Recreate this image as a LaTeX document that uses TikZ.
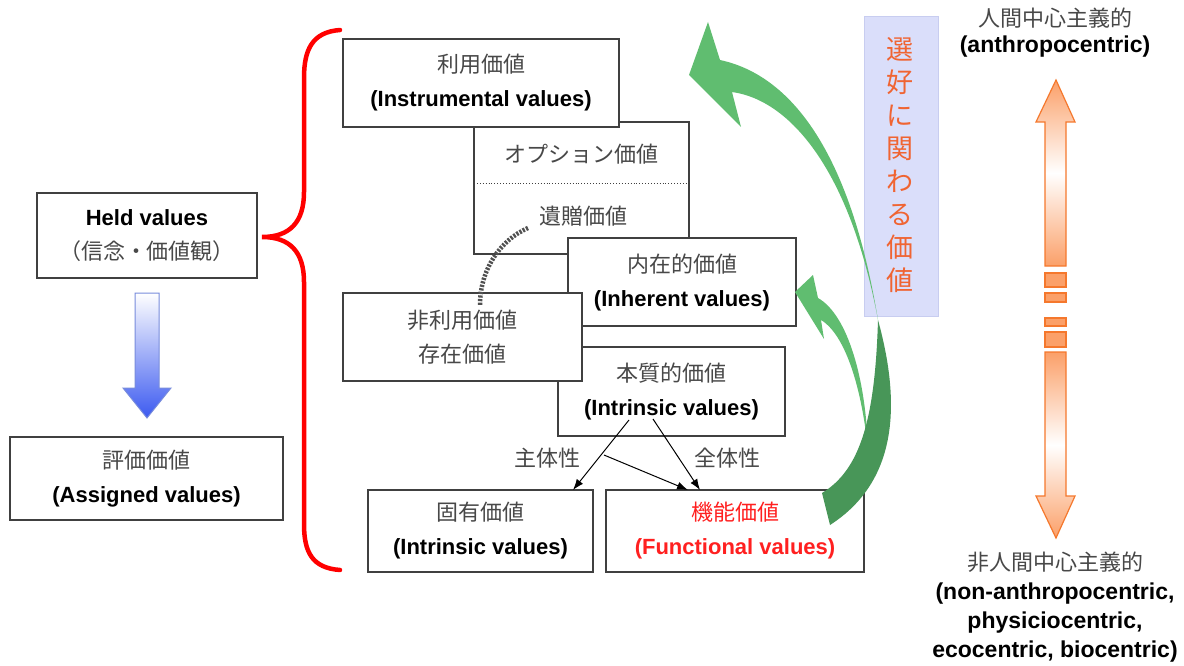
\documentclass[tikz,border=0pt]{standalone}
\usepackage{fontspec}
\setmainfont{Liberation Sans}
\newfontfamily\jp{Noto Sans CJK JP}
\usetikzlibrary{arrows.meta,calc}
\definecolor{boxline}{RGB}{64,64,64}
\definecolor{jgray}{RGB}{72,72,72}
\definecolor{dotgray}{RGB}{80,80,80}
\definecolor{fred}{RGB}{255,32,32}
\definecolor{glight}{RGB}{96,189,112}
\definecolor{gdark}{RGB}{72,150,88}
\definecolor{pfill}{RGB}{218,222,250}
\definecolor{pline}{RGB}{200,205,240}
\definecolor{vorange}{RGB}{240,100,50}
\definecolor{ofill}{RGB}{251,160,105}
\definecolor{oline}{RGB}{245,120,45}
\definecolor{bblue}{RGB}{60,90,240}
\definecolor{bline}{RGB}{120,140,220}
\definecolor{bracered}{RGB}{255,0,0}
\newcommand\jtext[1]{{\jp\color{jgray}#1}}
\newcommand\btext[1]{{\bfseries #1}}
\begin{document}
\begin{tikzpicture}[x=1pt,y=-1pt,
  box/.style={draw=boxline,line width=1.2pt,fill=white,inner sep=0pt,align=center,font=\fontsize{22}{34}\selectfont},
  arr/.style={line width=1pt,-{Latex[length=11pt,width=8pt]}},
  lab/.style={inner sep=0pt,font=\jp\fontsize{22}{26}\selectfont,text=jgray},
  eng/.style={inner sep=0pt,align=center,font=\bfseries\fontsize{23}{29}\selectfont},
  oarrow/.style={draw=oline,line width=1.2pt,top color=ofill,bottom color=ofill,middle color=white}]
\useasboundingbox (0,0) rectangle (1184,666);
\fill[white] (0,0) rectangle (1184,666);

% left boxes
\node[box,minimum width=220pt,minimum height=85pt] (held) at (147,235.5) {\btext{Held values}\\\jtext{（信念・価値観）}};
\node[box,minimum width=273pt,minimum height=83pt] (assigned) at (146.5,478.5) {\jtext{評価価値}\\\btext{(Assigned values)}};
\path[draw=bline,line width=1pt,top color=white,bottom color=bblue]
  (135,293) -- (159,293) -- (159,388) -- (171,388) -- (147,418) -- (123,388) -- (135,388) -- cycle;

% red brace
\draw[bracered,line width=4.5pt,line cap=round]
  (340,30) .. controls (312,32) and (304,50) .. (304,78) -- (304,192)
  .. controls (304,222) and (290,237) .. (262,237)
  .. controls (290,237) and (304,252) .. (304,282) -- (304,524)
  .. controls (304,552) and (312,568) .. (340,570);

% value boxes
\node[box,minimum width=215pt,minimum height=132pt] (opt) at (581.5,188) {};
\node[lab] (optA) at (581.5,154) {オプション価値};
\draw[dotted,line width=0.9pt,boxline] (474,183) -- (689,183);
\node[lab] (optB) at (583,216) {遺贈価値};
\node[box,minimum width=276pt,minimum height=88pt] (instr) at (481,83) {\jtext{利用価値}\\\btext{(Instrumental values)}};
\node[box,minimum width=228pt,minimum height=88pt] (inher) at (682,282) {\jtext{内在的価値}\\\btext{(Inherent values)}};
\node[box,minimum width=227pt,minimum height=89pt] (intr) at (671.5,391.5) {\jtext{本質的価値}\\\btext{(Intrinsic values)}};
\node[box,minimum width=239pt,minimum height=88pt] (nonuse) at (462.5,337) {\jtext{非利用価値}\\\jtext{存在価値}};
\node[box,minimum width=225pt,minimum height=82pt] (koyu) at (480.5,531) {\jtext{固有価値}\\\btext{(Intrinsic values)}};
\node[box,minimum width=258pt,minimum height=82pt] (func) at (735,531) {{\jp\color{fred}機能価値}\\{\color{fred}\bfseries (Functional values)}};

% dotted link
\coordinate (dA) at (528,228);
\coordinate (dB) at (480,305);
\draw[dotgray,line width=4.5pt,dash pattern=on 2.2pt off 1.4pt] (dA) .. controls (500,240) and (480,270) .. (dB);

% arrows from intrinsic
\coordinate (a1s) at (629,420); \coordinate (a1e) at (573,490);
\coordinate (a2s) at (653,419); \coordinate (a2e) at (700,490);
\coordinate (a3s) at (604,455); \coordinate (a3e) at (688,490);
\draw[arr] (a1s) -- (a1e);
\draw[arr] (a2s) -- (a2e);
\draw[arr] (a3s) -- (a3e);
\node[lab] (l1) at (547,458) {主体性};
\node[lab] (l2) at (727,458) {全体性};

% preference box
\node[draw=pline,fill=pfill,line width=1pt,minimum width=74pt,minimum height=299pt,inner sep=0pt] (pref) at (901,166.5) {};
\node[inner sep=0pt,align=center,text=vorange,font=\jp\fontsize{27}{33}\selectfont] (ptext) at (900,165) {選\\好\\に\\関\\わ\\る\\価\\値};

% green arrows
\fill[glight] (813,275) -- (818,298) .. controls (848,315) and (866,380) .. (868,450)
  .. controls (862,390) and (846,335) .. (821,320) -- (824,339) -- (795,292) -- cycle;
\fill[glight] (708,22) -- (720,60) .. controls (790,75) and (850,150) .. (878,320)
  .. controls (850,170) and (790,100) .. (732,92) -- (741,127) -- (689,75) -- cycle;
\fill[gdark] (878,320) .. controls (900,400) and (900,480) .. (830,525) -- (822,493)
  .. controls (860,470) and (875,420) .. (878,320) -- cycle;

% orange double arrow
\path[oarrow]
  (1056,80) -- (1075,122) -- (1066,122) -- (1066,266) -- (1045,266) -- (1045,122) -- (1036,122) -- cycle;
\path[oarrow]
  (1045,352) -- (1066,352) -- (1066,496) -- (1075,496) -- (1056,538) -- (1036,496) -- (1045,496) -- cycle;
\path[draw=oline,line width=1.2pt,fill=ofill] (1045,273) rectangle (1066,287);
\path[draw=oline,line width=1.2pt,fill=ofill] (1045,293) rectangle (1066,302);
\path[draw=oline,line width=1.2pt,fill=ofill] (1045,318) rectangle (1066,326);
\path[draw=oline,line width=1.2pt,fill=ofill] (1045,332) rectangle (1066,347);

% right labels
\node[lab] (hc) at (1055,18) {人間中心主義的};
\node[eng] (hcE) at (1055,47) {(anthropocentric)};
\node[lab] (nhc) at (1055,562) {非人間中心主義的};
\node[eng] (nhcE) at (1055,623) {(non-anthropocentric,\\physiciocentric,\\ecocentric, biocentric)};
\end{tikzpicture}
\end{document}
